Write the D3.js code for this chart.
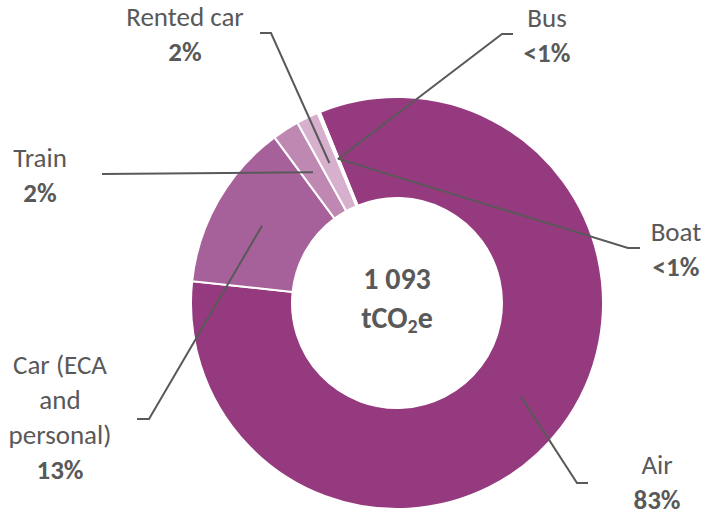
<!DOCTYPE html>
<html>
<head>
<meta charset="utf-8">
<script src="https://cdn.jsdelivr.net/npm/d3@7"></script>
<style>
  body { margin: 0; background: #fff; }
  text { font-family: Carlito, Calibri, Lato, sans-serif; fill: #595959; }
</style>
</head>
<body>
<script>
// travel emissions by mode, tCO2e
const categories = ["Air", "Car (ECA and personal)", "Train", "Rented car", "Bus", "Boat"];
const emissions = [905, 144, 23, 19, 1.5, 0.5];
const shareLabels = ["83%", "13%", "2%", "2%", "<1%", "<1%"];
const labelLines = [["Air"], ["Car (ECA", "and", "personal)"], ["Train"], ["Rented car"], ["Bus"], ["Boat"]];
const totalLabel = "1 093";

const colours = ["#953a7f", "#a7619a", "#bf88b3", "#d6b0cd", "#e8cfe2", "#f2e3ee"];

// label layout: text centre x, first baseline, leader elbow and end
const labelLayout = [
  {x: 657, y: 474, elbow: [577, 483], end: [588, 483]},
  {x: 60, y: 374, elbow: [149, 419], end: [137, 419]},
  {x: 40, y: 167, elbow: [102, 174], end: [102, 174]},
  {x: 185, y: 26, elbow: [271, 33], end: [260, 33]},
  {x: 547, y: 27, elbow: [502, 34], end: [513, 34]},
  {x: 676, y: 241, elbow: [628, 248], end: [640, 248]}
];

class Donut_D3 {
  constructor(width, height, cx, cy, inner, outer) {
    this.width = width;
    this.height = height;
    this.cx = cx;
    this.cy = cy;
    this.inner = inner;
    this.outer = outer;
    this.lineHeight = 35;

    this.svg = d3.select("body")
      .append("svg")
        .attr("width", width)
        .attr("height", height);

    this.canvas = this.svg
      .append("g")
        .attr("transform", "translate(" + cx + "," + cy + ")");
  };

  plot() {
    var obj = this;
    var rows = categories.map(function(c, i) {
      return {name: c, value: emissions[i], share: shareLabels[i], lines: labelLines[i], pos: labelLayout[i], colour: colours[i]};
    });

    var start = -22 * Math.PI / 180;
    var pie = d3.pie()
      .sort(null)
      .value(function(d) { return d.value; })
      .startAngle(start)
      .endAngle(start + 2 * Math.PI);

    var arc = d3.arc()
      .innerRadius(this.inner)
      .outerRadius(this.outer);

    var arcs = pie(rows);

    this.canvas.selectAll("path.slice")
      .data(arcs)
      .enter()
      .append("path")
        .attr("class", "slice")
        .attr("d", arc)
        .attr("fill", function(d) { return d.data.colour; })
        .attr("stroke", "#fff")
        .attr("stroke-width", 2);

    // leader lines, from slice centroid (page coords)
    this.svg.selectAll("path.leader")
      .data(arcs)
      .enter()
      .append("path")
        .attr("class", "leader")
        .attr("fill", "none")
        .attr("stroke", "#595959")
        .attr("stroke-width", 2)
        .attr("d", function(d) {
          var c = arc.centroid(d);
          var p = d.data.pos;
          return d3.line()([[c[0] + obj.cx, c[1] + obj.cy], p.elbow, p.end]);
        });

    var labels = this.svg.selectAll("text.label")
      .data(arcs)
      .enter()
      .append("text")
        .attr("class", "label")
        .attr("text-anchor", "middle")
        .attr("font-size", 27);

    labels.each(function(d) {
      var t = d3.select(this);
      var p = d.data.pos;
      d.data.lines.forEach(function(line, i) {
        t.append("tspan")
          .attr("x", p.x)
          .attr("y", p.y + i * obj.lineHeight)
          .text(line);
      });
      t.append("tspan")
        .attr("x", p.x)
        .attr("y", p.y + d.data.lines.length * obj.lineHeight)
        .attr("font-weight", "bold")
        .text(d.data.share);
    });

    // total in the hole
    var centre = this.canvas.append("text")
      .attr("text-anchor", "middle")
      .attr("font-size", 30)
      .attr("font-weight", "bold");
    centre.append("tspan")
      .attr("x", 0)
      .attr("y", -14)
      .text(totalLabel);
    var unit = centre.append("tspan")
      .attr("x", 0)
      .attr("y", 25);
    unit.append("tspan").text("tCO");
    unit.append("tspan").attr("font-size", 20).attr("dy", 5).text("2");
    unit.append("tspan").attr("dy", -5).text("e");
  };
};

var chart = new Donut_D3(706, 515, 397, 303, 105, 206);
chart.plot();
</script>
</body>
</html>
